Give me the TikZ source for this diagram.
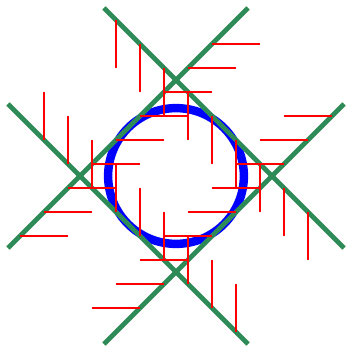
\documentclass[tikz,border=0pt]{standalone}
\usepackage{xcolor}
\usetikzlibrary{calc}
\definecolor{cSea}{RGB}{46,139,87}
\tikzset{
  ring/.style={draw=blue,line width=10pt},
  wall/.style={draw=cSea,line width=5.5pt},
  hatch/.style={draw=red,line width=2pt}
}
\begin{document}
\begin{tikzpicture}

  \useasboundingbox (-7.333,-7.208) rectangle (7.167,7.333);

  % end points of the four walls
  \coordinate (ne1) at (-3,7);
  \coordinate (ne2) at (7,-3);
  \coordinate (nw1) at (-7,-3);
  \coordinate (nw2) at (3,7);
  \coordinate (sw1) at (-7,3);
  \coordinate (sw2) at (3,-7);
  \coordinate (se1) at (7,3);
  \coordinate (se2) at (-3,-7);

  \draw[ring] (0,0) circle ({2*sqrt(2)});

  \draw[wall] (ne1) -- (ne2);
  \draw[wall] (nw1) -- (nw2);
  \draw[wall] (sw1) -- (sw2);
  \draw[wall] (se1) -- (se2);

  % hatching on each wall
  \foreach \x in {-2.5,-1.5,...,5.5}
    \draw[hatch] (\x,{4-(\x)}) -- (\x,{2-(\x)});
  \foreach \x in {-5.5,-4.5,...,2.5}
    \draw[hatch] (\x,{-4-(\x)}) -- (\x,{-2-(\x)});
  \foreach \y in {-2.5,-1.5,...,5.5}
    \draw[hatch] ({(\y)-4},\y) -- ({(\y)-2},\y);
  \foreach \y in {-5.5,-4.5,...,2.5}
    \draw[hatch] ({(\y)+4},\y) -- ({(\y)+2},\y);

\end{tikzpicture}
\end{document}
